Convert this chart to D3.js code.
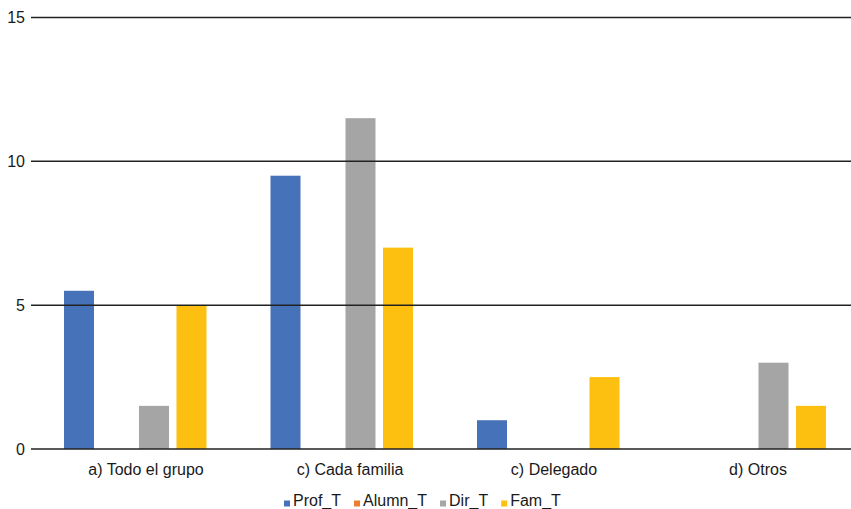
<!doctype html>
<html lang="es">
  <head>
    <meta charset="UTF-8" />
    <title>Prof_T, Alumn_T, Dir_T, Fam_T</title>
    <script src="https://d3js.org/d3.v7.min.js"></script>
    <style>
      body {
        margin: 0;
        background: #fff;
      }
      text {
        font-family: 'Liberation Sans', Arial, sans-serif;
        fill: #1a1a1a;
      }
    </style>
  </head>
  <body>
    <svg width="851" height="509"></svg>
    <script>
      // data
      const categories = [
        'a) Todo el grupo',
        'c) Cada familia',
        'c) Delegado',
        'd) Otros',
      ];
      const series = ['Prof_T', 'Alumn_T', 'Dir_T', 'Fam_T'];
      const profT = [5.5, 9.5, 1, 0];
      const alumnT = [0, 0, 0, 0];
      const dirT = [1.5, 11.5, 0, 3];
      const famT = [5, 7, 2.5, 1.5];
      const yTicks = [0, 5, 10, 15];

      const colors = ['#4672b9', '#ed7d31', '#a5a5a5', '#fdc010'];
      const values = [profT, alumnT, dirT, famT];

      const svg = d3.select('svg');
      const left = 31;
      const right = 851;

      // scales
      const x0 = d3
        .scaleBand()
        .domain(categories)
        .range([32, 858])
        .paddingInner(0)
        .paddingOuter(0);

      const x1 = d3
        .scaleBand()
        .domain(series)
        .range([32, x0.bandwidth() - 32])
        .paddingInner(0.2);

      const xLabel = d3
        .scaleBand()
        .domain(categories)
        .range([44, 860]);

      const y = d3.scaleLinear().domain([0, 15]).range([449, 17.5]);

      // bars
      const groups = svg
        .selectAll('.group')
        .data(categories)
        .enter()
        .append('g')
        .attr('class', 'group')
        .attr('transform', (d) => `translate(${x0(d)},0)`);

      groups
        .selectAll('rect')
        .data((d, i) =>
          series.map((s, j) => ({ s, v: values[j][i], c: colors[j] })),
        )
        .enter()
        .append('rect')
        .attr('x', (d) => x1(d.s))
        .attr('width', x1.bandwidth())
        .attr('y', (d) => y(d.v))
        .attr('height', (d) => y(0) - y(d.v))
        .attr('fill', (d) => d.c);

      // gridlines over the bars
      svg
        .append('g')
        .selectAll('line')
        .data(yTicks)
        .enter()
        .append('line')
        .attr('x1', left)
        .attr('x2', right)
        .attr('y1', (d) => y(d))
        .attr('y2', (d) => y(d))
        .attr('stroke', '#222')
        .attr('stroke-width', 1.5);

      // y tick labels
      svg
        .append('g')
        .selectAll('text')
        .data(yTicks)
        .enter()
        .append('text')
        .attr('x', 25)
        .attr('y', (d) => y(d))
        .attr('dy', '0.36em')
        .attr('text-anchor', 'end')
        .style('font-size', '16px')
        .text((d) => d);

      // category labels
      svg
        .append('g')
        .selectAll('text')
        .data(categories)
        .enter()
        .append('text')
        .attr('x', (d) => xLabel(d) + xLabel.bandwidth() / 2)
        .attr('y', 475)
        .attr('text-anchor', 'middle')
        .style('font-size', '16px')
        .text((d) => d);

      // legend
      const legend = svg.append('g').attr('transform', 'translate(284,0)');
      let lx = 0;
      series.forEach((s, i) => {
        legend
          .append('rect')
          .attr('x', lx)
          .attr('y', 500.5)
          .attr('width', 6)
          .attr('height', 6)
          .attr('fill', colors[i]);
        const t = legend
          .append('text')
          .attr('x', lx + 9)
          .attr('y', 506)
          .style('font-size', '16px')
          .text(s);
        lx += 9 + t.node().getComputedTextLength() + 13;
      });
    </script>
  </body>
</html>
